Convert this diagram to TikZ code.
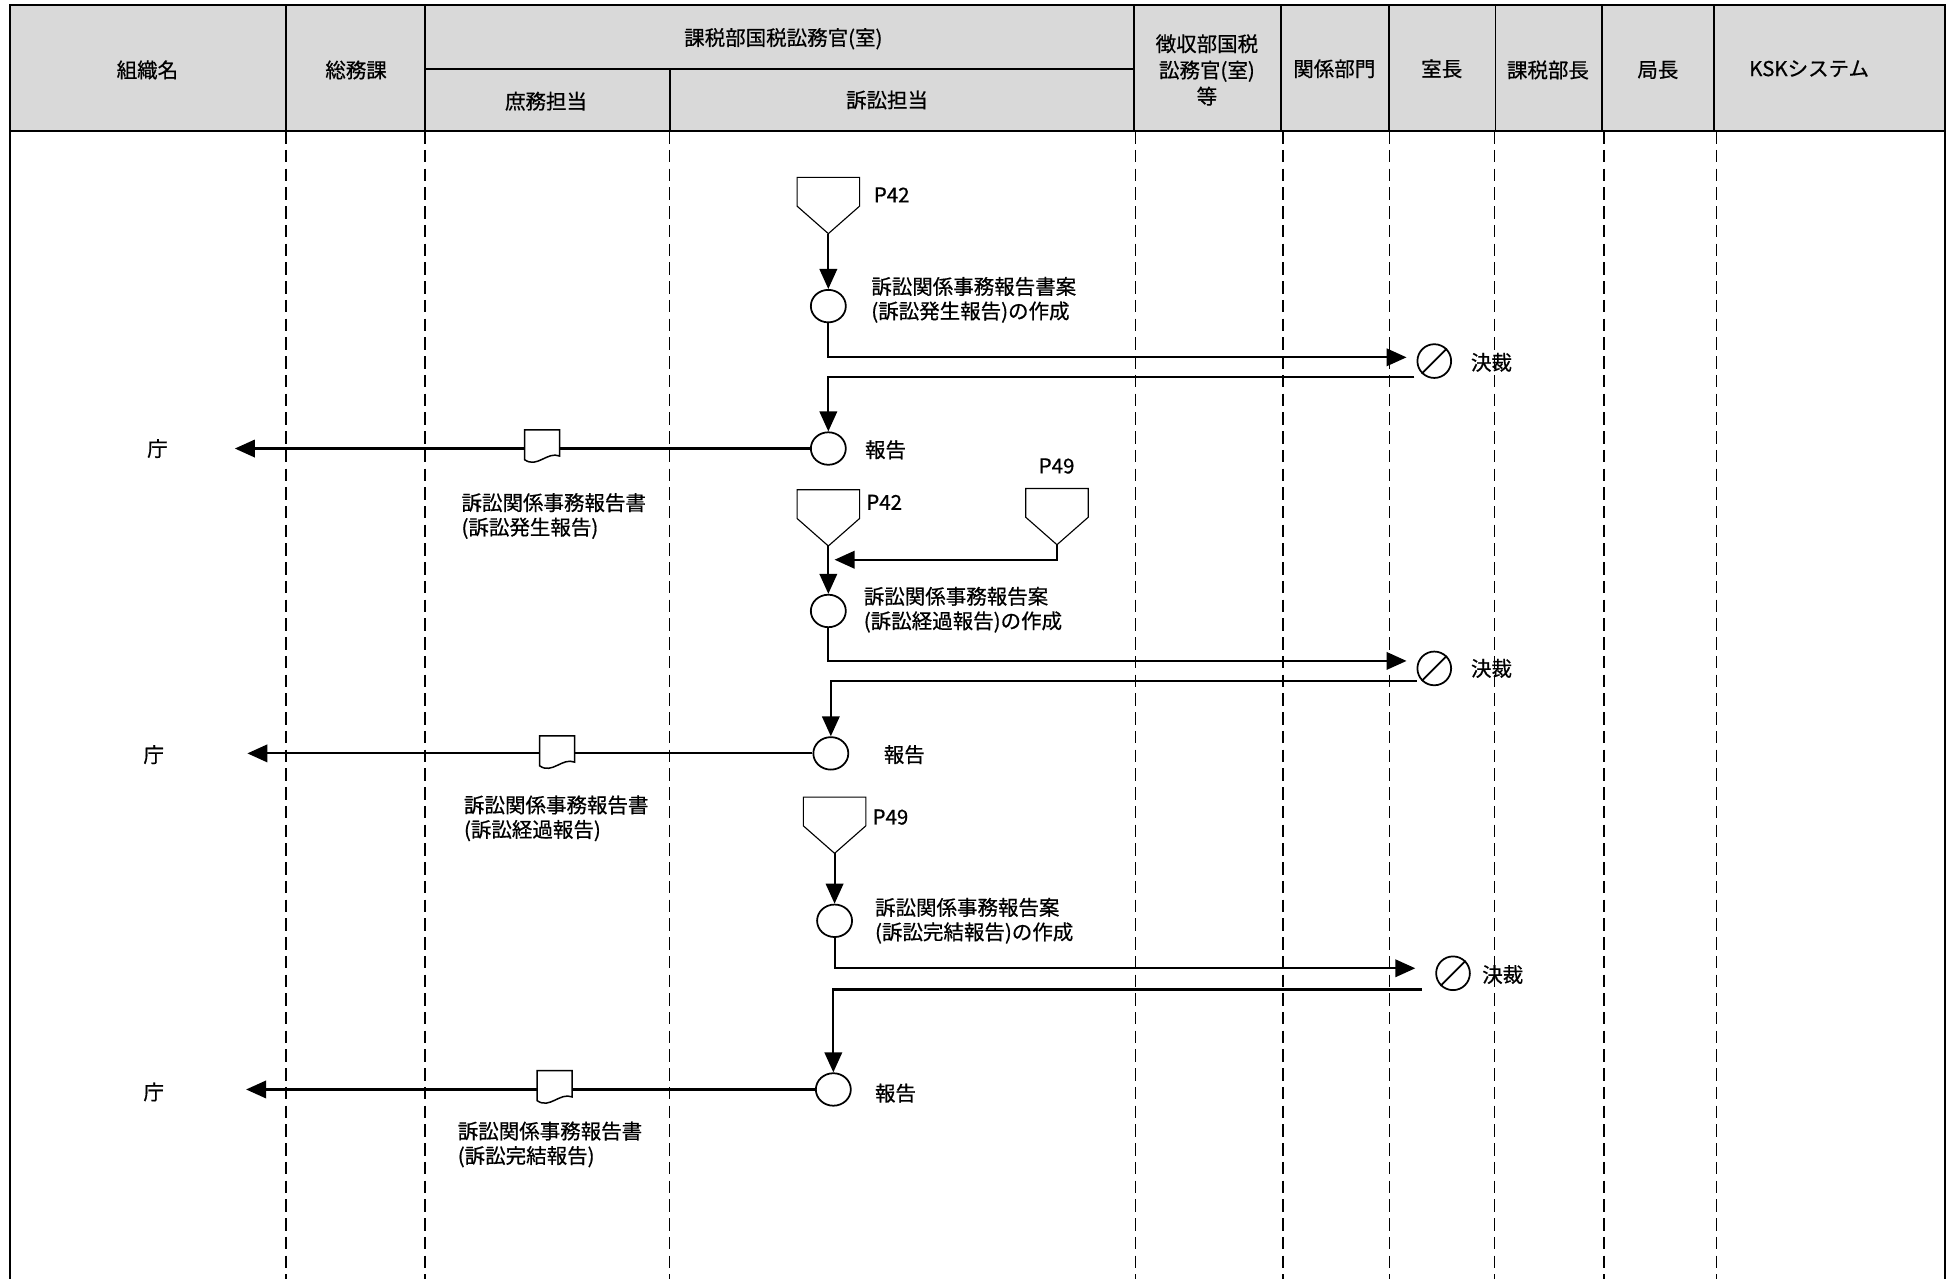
\documentclass[tikz,border=0pt]{standalone}
\usepackage{fontspec}
\setmainfont{Noto Sans CJK JP}[FakeBold=0.6]
\usetikzlibrary{arrows.meta,shapes.geometric}

\tikzset{
  head/.style={draw, line width=0.75pt, fill=gray!30},
  lane/.style={line width=0.6pt, dash pattern=on 5pt off 2.5pt},
  arr/.style={line width=0.85pt, -{Triangle[length=8pt,width=7pt]}},
  proc/.style={draw, ellipse, line width=0.7pt, minimum width=14pt, minimum height=13pt, inner sep=0pt},
  ok/.style={draw, circle, line width=0.7pt, minimum size=13.5pt, inner sep=0pt},
  txt/.style={inner sep=0pt, align=left, anchor=west},
  offpage/.pic={
    \draw[line width=0.45pt] (-25,0) -- (25,0) -- (25,23) -- (0,45) -- (-25,23) -- cycle;
    \coordinate (-tip) at (0,45);
  },
  report/.pic={
    \draw[line width=0.6pt, fill=white] (-14,-13) -- (14,-13) -- (14,8)
      .. controls (4,4) and (-4,18) .. (-14,11) -- cycle;
  }
}

\begin{document}
\begin{tikzpicture}[x=0.5pt, y=-0.5pt, font=\fontsize{8.2}{9.8}\selectfont]
        \useasboundingbox (0,0) rectangle (1568,1024);
        % Header
        \draw[head] (8,4) rectangle (229,105);
        \draw[head] (229,4) rectangle (340,105);
        \draw[head] (340,4) rectangle (908,55);
        \draw[head] (340,55) rectangle (536,105);
        \draw[head] (536,55) rectangle (908,105);
        \draw[head] (908,4) rectangle (1025,105);
        \draw[head] (1025,4) rectangle (1112,105);
        \draw[head] (1112,4) rectangle (1197,105);
        \draw[head] (1197,4) rectangle (1282,105);
        \draw[head] (1282,4) rectangle (1372,105);
        \draw[head] (1372,4) rectangle (1557,105);
        \node (h1) at (118,56) {組織名};
        \node (h2) at (285,56) {総務課};
        \node (h3) at (627,31) {課税部国税訟務官(室)};
        \node (h4) at (437,81) {庶務担当};
        \node (h5) at (710,80) {訴訟担当};
        \node[align=center, font=\fontsize{8.2}{10.5}\selectfont] (h6) at (966,56) {徴収部国税\\訟務官(室)\\等};
        \node (h7) at (1068,55) {関係部門};
        \node (h8) at (1154,55) {室長};
        \node (h9) at (1239,56) {課税部長};
        \node (h10) at (1327,56) {局長};
        \node (h11) at (1448,55) {KSKシステム};

        % Lanes
        \draw[line width=0.75pt] (8,105) -- (8,1024) (1557,105) -- (1557,1024);
        \foreach \x in {229,340,536,909,1027,1112,1196,1284,1374}
          \draw[lane] (\x,105) -- (\x,1024);

        % Flow 1
        \pic (pa) at (663,142) {offpage};
        \node[txt] (pal) at (699,156) {P42};
        \node[proc] (c1) at (663,245) {};
        \node[txt] (c1l) at (697,240) {訴訟関係事務報告書案\\(訴訟発生報告)の作成};
        \node[ok] (k1) at (1148,289) {};
        \draw[line width=0.7pt] (k1.south west) -- (k1.north east);
        \node[txt] (k1l) at (1177,290) {決裁};
        \node[proc] (r1) at (663,359) {};
        \node[txt] (r1l) at (692,360) {報告};
        \node (t1) at (126,359) {庁};
        \coordinate (a1) at (188,359);
        \node[txt] (d1l) at (369,413) {訴訟関係事務報告書\\(訴訟発生報告)};
        \draw[arr] (pa-tip) -- (c1);
        \draw[arr] (c1) |- ([shift={(-8,-3)}]k1.west);
        \draw[arr] ([shift={(-16,13)}]k1.center) -| (r1);
        \draw[arr] (r1) -- (a1);
        \pic at (434,357) {report};

        % Flow 2
        \pic (pb) at (663,392) {offpage};
        \node[txt] (pbl) at (693,402) {P42};
        \pic (pc) at (846,391) {offpage};
        \node[txt] (pcl) at (831,373) {P49};
        \node[proc] (c2) at (663,489) {};
        \node[txt] (c2l) at (691,488) {訴訟関係事務報告案\\(訴訟経過報告)の作成};
        \node[ok] (k2) at (1148,535) {};
        \draw[line width=0.7pt] (k2.south west) -- (k2.north east);
        \node[txt] (k2l) at (1177,535) {決裁};
        \node[proc] (r2) at (665,603) {};
        \node[txt] (r2l) at (707,604) {報告};
        \node (t2) at (123,604) {庁};
        \coordinate (a2) at (198,603);
        \node[txt] (d2l) at (371,655) {訴訟関係事務報告書\\(訴訟経過報告)};
        \draw[arr] (pc-tip) |- ([shift={(5,11)}]pb-tip);
        \draw[arr] (pb-tip) -- (c2);
        \draw[arr] (c2) |- ([shift={(-8,-6)}]k2.west);
        \draw[arr] ([shift={(-14,10)}]k2.center) -| (r2);
        \draw[arr] (r2) -- (a2);
        \pic at (446,602) {report};

        % Flow 3
        \pic (pd) at (668,638) {offpage};
        \node[txt] (pdl) at (698,654) {P49};
        \node[proc] (c3) at (668,737) {};
        \node[txt] (c3l) at (700,737) {訴訟関係事務報告案\\(訴訟完結報告)の作成};
        \node[ok] (k3) at (1163,779) {};
        \draw[line width=0.7pt] (k3.south west) -- (k3.north east);
        \node[txt] (k3l) at (1186,780) {決裁};
        \node[proc] (r3) at (667,872) {};
        \node[txt] (r3l) at (700,875) {報告};
        \node (t3) at (123,874) {庁};
        \coordinate (a3) at (197,872);
        \node[txt] (d3l) at (366,916) {訴訟関係事務報告書\\(訴訟完結報告)};
        \draw[arr] (pd-tip) -- (c3);
        \draw[arr] (c3) |- ([shift={(-16,-4)}]k3.west);
        \draw[arr] ([shift={(-25,13)}]k3.center) -| (r3);
        \draw[arr] (r3) -- (a3);
        \pic at (444,870) {report};
      \end{tikzpicture}
\end{document}
